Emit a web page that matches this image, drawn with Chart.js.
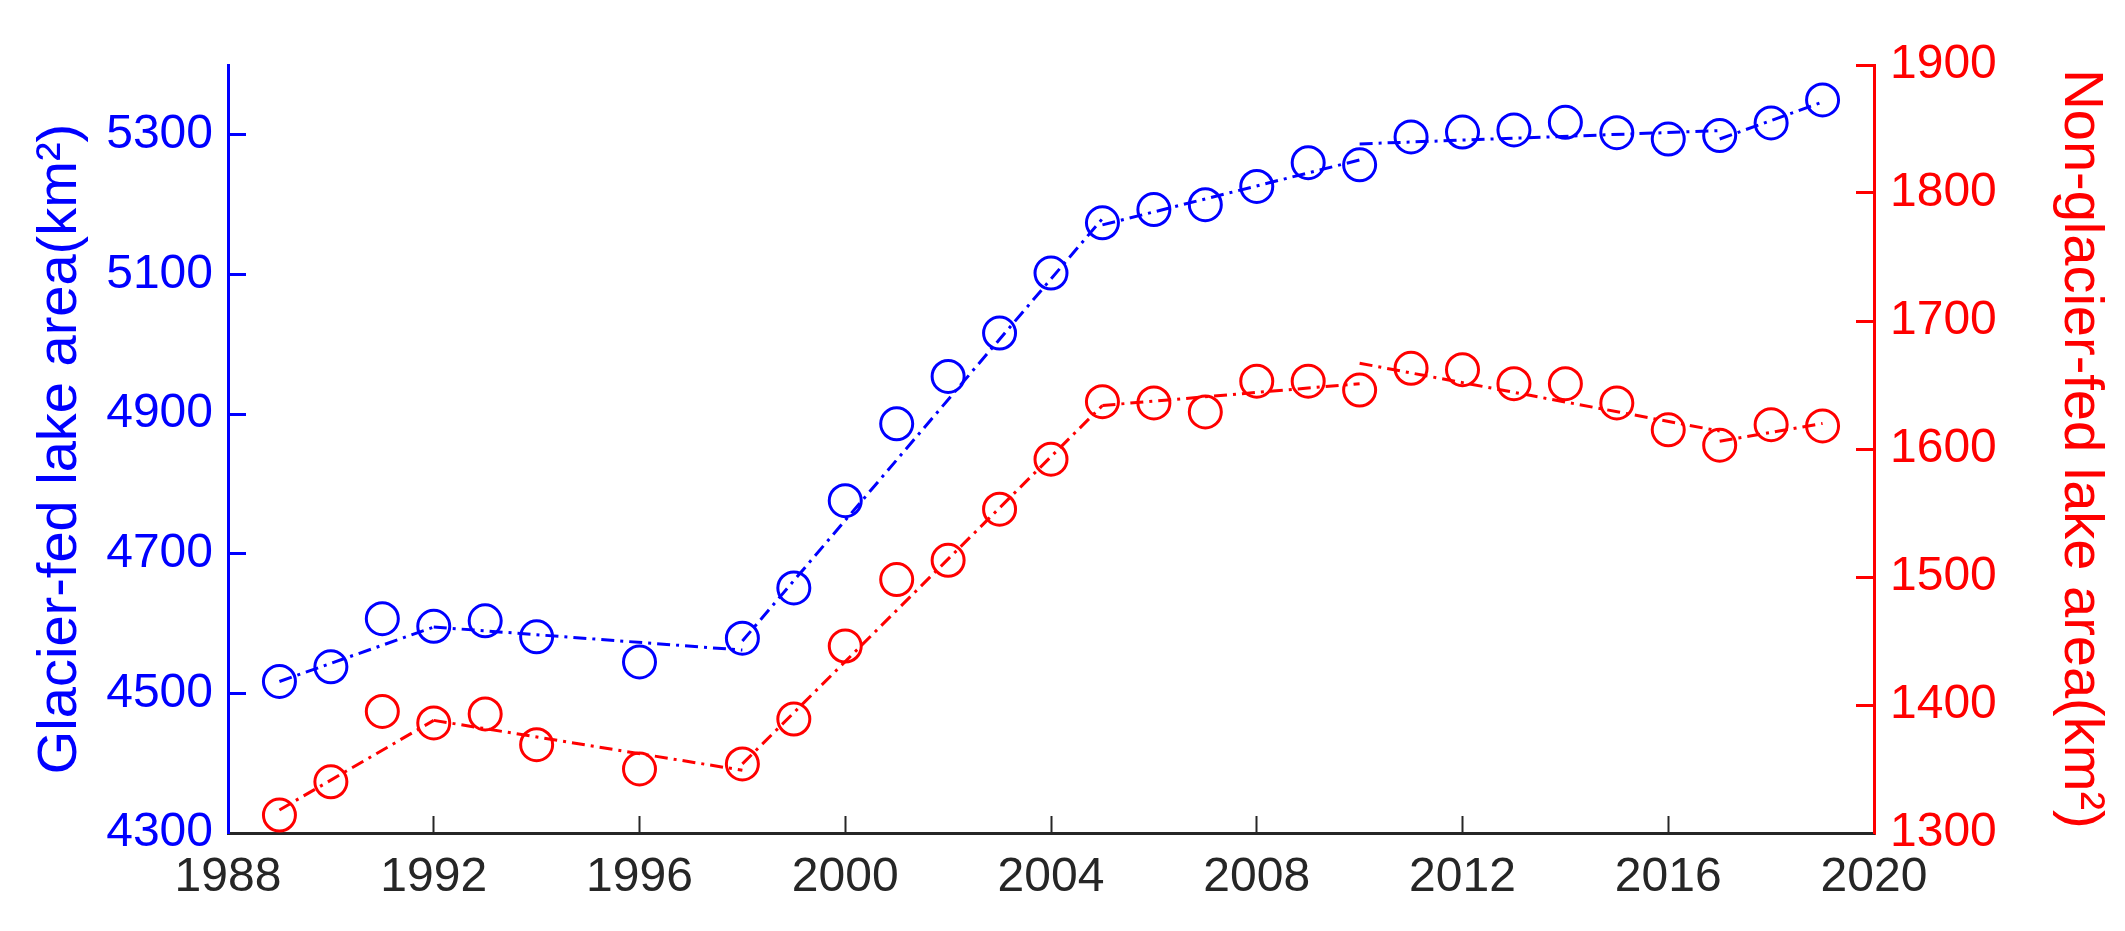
<!DOCTYPE html>
<html>
<head>
<meta charset="utf-8">
<script src="https://cdn.jsdelivr.net/npm/chart.js@4.4.1/dist/chart.umd.min.js"></script>
<style>
  html, body { margin: 0; padding: 0; background: #ffffff; }
  #c { display: block; }
</style>
</head>
<body>
<canvas id="c" width="2125" height="931"></canvas>
<script>
// ---- data ----
const years = [1989, 1990, 1991, 1992, 1993, 1994, 1996, 1998, 1999, 2000,
               2001, 2002, 2003, 2004, 2005, 2006, 2007, 2008, 2009, 2010,
               2011, 2012, 2013, 2014, 2015, 2016, 2017, 2018, 2019];
const glacierArea = [4517, 4538, 4607, 4596, 4604, 4581, 4545, 4579, 4651, 4776,
                     4886, 4954, 5016, 5102, 5174, 5193, 5200, 5226, 5260, 5257,
                     5297, 5304, 5307, 5318, 5303, 5294, 5299, 5317, 5350];
const nonGlacierArea = [1314, 1340, 1395, 1386, 1393, 1369, 1350, 1354, 1389, 1446,
                        1498, 1513, 1553, 1592, 1637, 1636, 1629, 1653, 1653, 1646,
                        1663, 1662, 1651, 1651, 1636, 1615, 1603, 1619, 1618];

// piecewise trend segments: [startYear, endYear] and [startValue, endValue]
const trendYears = [[1989, 1992], [1992, 1998], [1998, 2005], [2005, 2010], [2010, 2017], [2017, 2019]];
const glacierTrend = [[4517, 4595], [4595, 4562], [4575, 5180], [5171, 5264], [5287, 5306], [5294, 5347]];
const nonGlacierTrend = [[1318, 1388], [1388, 1349], [1354, 1634], [1634, 1651], [1667, 1614], [1606, 1620]];

// tick definitions
const xTicks = [1988, 1992, 1996, 2000, 2004, 2008, 2012, 2016, 2020];
const leftTicks = [4300, 4500, 4700, 4900, 5100, 5300];
const rightTicks = [1300, 1400, 1500, 1600, 1700, 1800, 1900];

const leftTitle = 'Glacier-fed lake area(km\u00B2)';
const rightTitle = 'Non-glacier-fed lake area(km\u00B2)';

// ---- styles ----
const BLUE = '#0000ff';
const RED = '#ff0000';
const AXIS_DARK = '#262626';
const FONT = 'Arial, "Liberation Sans", Helvetica, sans-serif';

function toPoints(xs, ys) { return xs.map((x, i) => ({ x: x, y: ys[i] })); }

const datasets = [];
trendYears.forEach((seg, i) => {
  datasets.push({
    label: 'glacier trend ' + i,
    data: toPoints(seg, glacierTrend[i]),
    yAxisID: 'y',
    showLine: true,
    borderColor: BLUE,
    borderWidth: 3,
    borderDash: [13, 6, 3, 6],
    pointRadius: 0,
    fill: false
  });
  datasets.push({
    label: 'non-glacier trend ' + i,
    data: toPoints(seg, nonGlacierTrend[i]),
    yAxisID: 'y1',
    showLine: true,
    borderColor: RED,
    borderWidth: 3,
    borderDash: [13, 6, 3, 6],
    pointRadius: 0,
    fill: false
  });
});
datasets.push({
  label: 'Glacier-fed lake area',
  data: toPoints(years, glacierArea),
  yAxisID: 'y',
  showLine: false,
  pointStyle: 'circle',
  pointRadius: 16,
  pointBorderWidth: 3,
  pointBorderColor: BLUE,
  pointBackgroundColor: 'rgba(0,0,0,0)',
  borderColor: BLUE
});
datasets.push({
  label: 'Non-glacier-fed lake area',
  data: toPoints(years, nonGlacierArea),
  yAxisID: 'y1',
  showLine: false,
  pointStyle: 'circle',
  pointRadius: 16,
  pointBorderWidth: 3,
  pointBorderColor: RED,
  pointBackgroundColor: 'rgba(0,0,0,0)',
  borderColor: RED
});

new Chart(document.getElementById('c'), {
  type: 'scatter',
  data: { datasets: datasets },
  options: {
    responsive: false,
    animation: false,
    devicePixelRatio: 1,
    layout: { padding: { top: 65, left: 0, right: 0, bottom: 0 } },
    plugins: { legend: { display: false }, tooltip: { enabled: false } },
    scales: {
      x: {
        type: 'linear',
        position: 'bottom',
        min: 1988,
        max: 2020,
        afterBuildTicks: (s) => { s.ticks = xTicks.map(v => ({ value: v })); },
        afterFit: (s) => { s.height = 98; },
        ticks: {
          color: AXIS_DARK,
          font: { family: FONT, size: 48 },
          padding: 33,
          maxRotation: 0,
          autoSkip: false,
          callback: (v) => String(v)
        },
        grid: { drawOnChartArea: false, drawTicks: true, tickLength: -17, tickColor: AXIS_DARK, tickWidth: 2 },
        border: { color: AXIS_DARK, width: 3 }
      },
      y: {
        type: 'linear',
        position: 'left',
        min: 4300,
        max: 5400,
        afterBuildTicks: (s) => { s.ticks = leftTicks.map(v => ({ value: v })); },
        afterFit: (s) => { s.width = 228; },
        ticks: {
          color: BLUE,
          font: { family: FONT, size: 48 },
          padding: 33,
          autoSkip: false,
          callback: (v) => String(v)
        },
        grid: { drawOnChartArea: false, drawTicks: true, tickLength: -18, tickColor: BLUE, tickWidth: 3 },
        border: { color: BLUE, width: 3 },
        title: {
          display: true,
          text: leftTitle,
          color: BLUE,
          font: { family: FONT, size: 56, lineHeight: 1.2 },
          padding: { top: 27, bottom: 0 }
        }
      },
      y1: {
        type: 'linear',
        position: 'right',
        min: 1300,
        max: 1900,
        afterBuildTicks: (s) => { s.ticks = rightTicks.map(v => ({ value: v })); },
        afterFit: (s) => { s.width = 251; },
        ticks: {
          color: RED,
          font: { family: FONT, size: 48 },
          padding: 34,
          autoSkip: false,
          callback: (v) => String(v)
        },
        grid: { drawOnChartArea: false, drawTicks: true, tickLength: -18, tickColor: RED, tickWidth: 3 },
        border: { color: RED, width: 3 },
        title: {
          display: true,
          text: rightTitle,
          color: RED,
          font: { family: FONT, size: 56, lineHeight: 1.2 },
          padding: { top: 11, bottom: 0 }
        }
      }
    }
  }
});
</script>
</body>
</html>
